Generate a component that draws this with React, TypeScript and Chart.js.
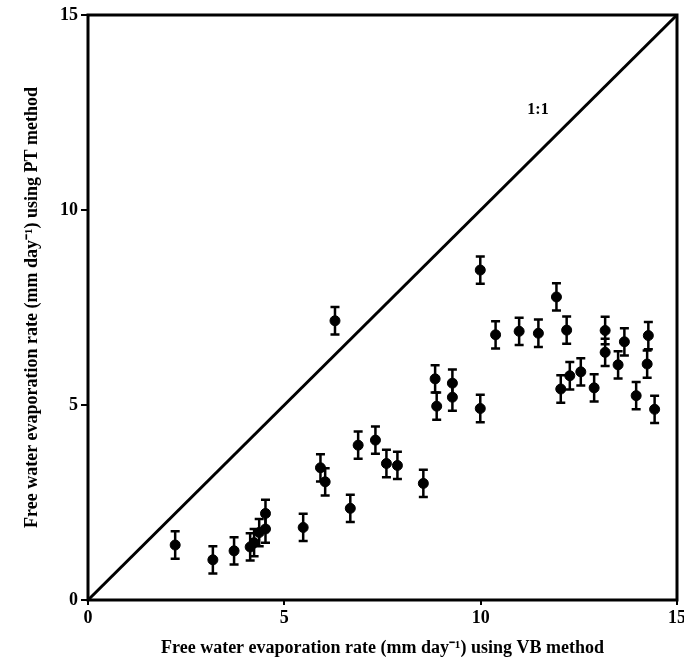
import React, { useEffect, useRef } from "react";
import { Chart, registerables } from "chart.js";

Chart.register(...registerables);

// VB method (x) vs PT method (y), mm/day
const vbRates = [
  2.22, 3.18, 3.72, 4.13, 4.23, 4.36, 4.52, 4.52, 5.48, 5.92, 6.04, 6.29, 6.68, 6.88,
  7.32, 7.6, 7.88, 8.54, 8.84, 8.88, 9.28, 9.28, 9.99, 9.99, 10.38, 10.98, 11.47,
  11.93, 12.04, 12.19, 12.27, 12.55, 12.89, 13.17, 13.17, 13.5, 13.66, 13.96, 14.24,
  14.27, 14.43,
];
const ptRates = [
  1.41, 1.03, 1.26, 1.36, 1.47, 1.73, 1.82, 2.22, 1.86, 3.39, 3.03, 7.16, 2.35, 3.97,
  4.1, 3.5, 3.45, 2.99, 5.67, 4.97, 5.56, 5.2, 8.46, 4.91, 6.8, 6.89, 6.84, 7.77, 5.41,
  6.92, 5.75, 5.85, 5.44, 6.91, 6.35, 6.03, 6.62, 5.24, 6.05, 6.78, 4.89,
];
const ptErrors = [
  0.35, 0.35, 0.35, 0.35, 0.35, 0.35, 0.35, 0.35, 0.35, 0.35, 0.35, 0.35, 0.35, 0.35,
  0.35, 0.35, 0.35, 0.35, 0.35, 0.35, 0.35, 0.35, 0.35, 0.35, 0.35, 0.35, 0.35, 0.35,
  0.35, 0.35, 0.35, 0.35, 0.35, 0.35, 0.35, 0.35, 0.35, 0.35, 0.35, 0.35, 0.35,
];
const oneToOneLine = [0, 15];
const oneToOneLabel = "1:1";
const oneToOneLabelPos = [11.46, 12.58];
const axisMin = 0;
const axisMax = 15;
const tickStep = 5;
const xTitle = "Free water evaporation rate (mm day\u207B\u00B9) using VB method";
const yTitle = "Free water evaporation rate (mm day\u207B\u00B9) using PT method";

const SERIF = "'Liberation Serif', 'Times New Roman', serif";

const errorBarPlugin = {
  id: "errorBars",
  afterDatasetsDraw(chart: any) {
    const { ctx, scales } = chart;
    const xs = scales.x;
    const ys = scales.y;
    ctx.save();
    ctx.strokeStyle = "#000";
    ctx.lineWidth = 2.5;
    for (let i = 0; i < vbRates.length; i++) {
      const px = xs.getPixelForValue(vbRates[i]);
      const top = ys.getPixelForValue(ptRates[i] + ptErrors[i]);
      const bot = ys.getPixelForValue(ptRates[i] - ptErrors[i]);
      ctx.beginPath();
      ctx.moveTo(px, top);
      ctx.lineTo(px, bot);
      ctx.moveTo(px - 4.5, top);
      ctx.lineTo(px + 4.5, top);
      ctx.moveTo(px - 4.5, bot);
      ctx.lineTo(px + 4.5, bot);
      ctx.stroke();
    }
    // frame
    const a = chart.chartArea;
    ctx.lineWidth = 3;
    ctx.beginPath();
    ctx.rect(a.left, a.top, a.right - a.left, a.bottom - a.top);
    ctx.stroke();
    // 1:1 label
    ctx.fillStyle = "#000";
    ctx.font = `bold 16px ${SERIF}`;
    ctx.textAlign = "center";
    ctx.textBaseline = "middle";
    ctx.fillText(
      oneToOneLabel,
      xs.getPixelForValue(oneToOneLabelPos[0]),
      ys.getPixelForValue(oneToOneLabelPos[1])
    );
    ctx.restore();
  },
};

export default function App() {
  const ref = useRef<HTMLCanvasElement | null>(null);
  useEffect(() => {
    if (!ref.current) return;
    const chart = new Chart(ref.current, {
      type: "scatter",
      data: {
        datasets: [
          {
            type: "line",
            data: oneToOneLine.map((v) => ({ x: v, y: v })),
            borderColor: "#000",
            borderWidth: 3,
            pointRadius: 0,
            fill: false,
            order: 2,
          } as any,
          {
            data: vbRates.map((x, i) => ({ x, y: ptRates[i] })),
            backgroundColor: "#000",
            borderColor: "#000",
            pointRadius: 5,
            pointHoverRadius: 5,
            order: 1,
          },
        ],
      },
      plugins: [errorBarPlugin],
      options: {
        responsive: false,
        animation: false,
        events: [],
        layout: { padding: { top: 15, right: 7, left: 0, bottom: 0 } },
        plugins: { legend: { display: false }, tooltip: { enabled: false } },
        scales: {
          x: {
            type: "linear",
            min: axisMin,
            max: axisMax,
            border: { display: false },
            grid: {
              display: true,
              drawOnChartArea: false,
              drawTicks: true,
              tickLength: 5,
              color: "#000",
              lineWidth: 2,
            },
            ticks: {
              stepSize: tickStep,
              color: "#000",
              padding: 3,
              maxRotation: 0,
              font: { family: SERIF, size: 18, weight: "bold" },
            },
            title: {
              display: true,
              text: xTitle,
              color: "#000",
              padding: { top: 0, bottom: 5 },
              font: { family: SERIF, size: 18, weight: "bold" },
            },
            afterFit: (s: any) => {
              s.height = 64;
              s.paddingLeft = 0;
              s.paddingRight = 0;
            },
          },
          y: {
            type: "linear",
            min: axisMin,
            max: axisMax,
            border: { display: false },
            grid: {
              display: true,
              drawOnChartArea: false,
              drawTicks: true,
              tickLength: 7,
              color: "#000",
              lineWidth: 2,
            },
            ticks: {
              stepSize: tickStep,
              color: "#000",
              padding: 3,
              font: { family: SERIF, size: 18, weight: "bold" },
            },
            title: {
              display: true,
              text: yTitle,
              color: "#000",
              padding: { top: 22, bottom: 0 },
              font: { family: SERIF, size: 18, weight: "bold" },
            },
            afterFit: (s: any) => {
              s.width = 88;
              s.paddingTop = 0;
              s.paddingBottom = 0;
            },
          },
        },
      },
    });
    return () => chart.destroy();
  }, []);
  return (
    <div style={{ position: "fixed", left: 0, top: 0, width: 684, height: 664, background: "#fff" }}>
      <canvas ref={ref} width={684} height={664} style={{ display: "block" }} />
    </div>
  );
}
